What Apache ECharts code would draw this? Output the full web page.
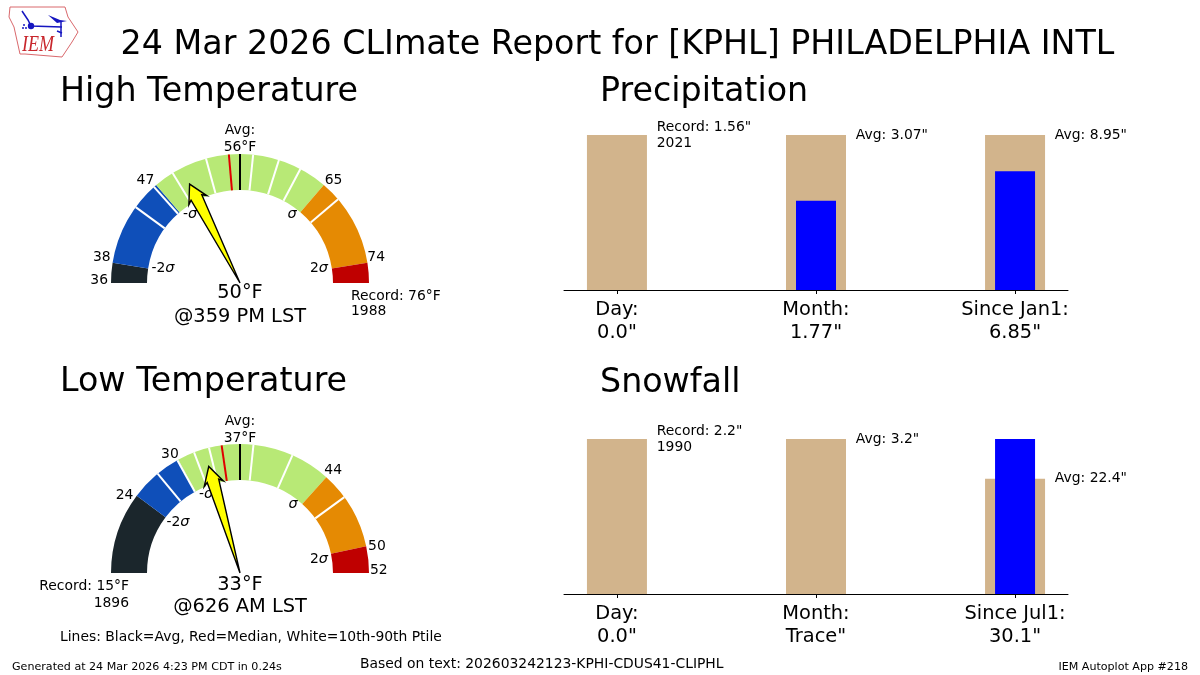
<!DOCTYPE html>
<html lang="en">
<head>
<meta charset="UTF-8">
<title>KPHL CLImate Report</title>
<script src="https://cdn.jsdelivr.net/npm/echarts/dist/echarts.min.js"></script>
<style>
    html, body { margin: 0; padding: 0; background: #fff; }
    #chart { width: 1200px; height: 675px; }
</style>
</head>
<body>
<div id="chart"></div>
<script>
// temperatures, degrees F
var highRecord = 36, highMax = 76, highAvg = 56, highObs = 50;
var highBands = [36, 38, 47, 65, 74, 76];
var highPercentiles = [44, 46.7, 49, 52.6, 57.3, 59.9, 62.2, 67];
var highMedian = 54.9;
var highTickLabels = [36, 38, 47, 65, 74];

var lowRecord = 15, lowMax = 52, lowAvg = 37, lowObs = 33;
var lowBands = [15, 24, 30, 44, 50, 52];
var lowPercentiles = [27.3, 29.9, 31.9, 33.6, 38, 41, 46];
var lowMedian = 35;
var lowTickLabels = [24, 30, 44, 50, 52];

var bandColors = ['#1b262c', '#0f4fb9', '#b8e976', '#e58a03', '#bf0000'];

// bars: the tan bar is the record/average, the blue one is the observed value
var precipCategories = ['Day:', 'Month:', 'Since Jan1:'];
var precipObsLabels = ['0.0"', '1.77"', '6.85"'];
var precipObs = [0, 1.77, 6.85];
var precipRef = [1.56, 3.07, 8.95];
var precipNotes = ['Record: 1.56"\n2021', 'Avg: 3.07"', 'Avg: 8.95"'];

var snowCategories = ['Day:', 'Month:', 'Since Jul1:'];
var snowObsLabels = ['0.0"', 'Trace"', '30.1"'];
var snowObs = [0, 0, 30.1];
var snowRef = [2.2, 3.2, 22.4];
var snowNotes = ['Record: 2.2"\n1990', 'Avg: 3.2"', 'Avg: 22.4"'];

var FONT = '"DejaVu Sans", sans-serif';
var R_IN = 93, R_OUT = 129;

// the gauge has its average straight up, each half has its own scale
function angleScale(min, avg, max) {
    return function (t) {
        if (t <= avg) return (t - min) / (avg - min) * 90;
        return 90 + (t - avg) / (max - avg) * 90;
    };
}
var highAngle = angleScale(highRecord, highAvg, highMax);
var lowAngle = angleScale(lowRecord, lowAvg, lowMax);

function txt(text, x, y, size, align, va, extra) {
    var style = {
        text: text, fill: '#000', font: size + 'px ' + FONT,
        align: align || 'left', verticalAlign: va || 'middle'
    };
    if (extra) for (var k in extra) style[k] = extra[k];
    return { type: 'text', x: x, y: y, silent: true, style: style };
}

function sigma(text, x, y) {
    return txt(text, x, y, 13.9, 'center', 'middle', {
        rich: { i: { fontStyle: 'italic', fontSize: 14.5, fontFamily: 'DejaVu Sans' },
                n: { fontSize: 13.9, fontFamily: 'DejaVu Sans' } }
    });
}

function bandSeries(polarIndex, bands, toAngle) {
    var rows = [];
    for (var i = 0; i < bands.length - 1; i++) rows.push([toAngle(bands[i]), toAngle(bands[i + 1]), i]);
    return {
        type: 'custom', coordinateSystem: 'polar', polarIndex: polarIndex, silent: true, z: 2, data: rows,
        renderItem: function (params, api) {
            var cs = params.coordSys;
            var a = api.coord([R_OUT, api.value(0)]);
            var b = api.coord([R_OUT, api.value(1)]);
            var start = Math.atan2(a[1] - cs.cy, a[0] - cs.cx);
            var end = Math.atan2(b[1] - cs.cy, b[0] - cs.cx);
            if (end < start) end += Math.PI * 2;
            return {
                type: 'sector',
                shape: { cx: cs.cx, cy: cs.cy, r0: R_IN, r: R_OUT, startAngle: start, endAngle: end, clockwise: true },
                style: { fill: bandColors[api.value(2)] }
            };
        }
    };
}

function tickSeries(polarIndex, values, toAngle, color, width, z) {
    return {
        type: 'custom', coordinateSystem: 'polar', polarIndex: polarIndex, silent: true, z: z,
        data: values.map(function (v) { return [toAngle(v), 0]; }),
        renderItem: function (params, api) {
            var p0 = api.coord([R_IN, api.value(0)]);
            var p1 = api.coord([R_OUT, api.value(0)]);
            return {
                type: 'line',
                shape: { x1: p0[0], y1: p0[1], x2: p1[0], y2: p1[1] },
                style: { stroke: color, lineWidth: width }
            };
        }
    };
}

function arrowSeries(polarIndex, obs, toAngle) {
    return {
        type: 'custom', coordinateSystem: 'polar', polarIndex: polarIndex, silent: true, z: 5,
        data: [[toAngle(obs), 0]],
        renderItem: function (params, api) {
            var cs = params.coordSys;
            var tip = api.coord([111, api.value(0)]);
            var dx = (cs.cx - tip[0]) / 111, dy = (cs.cy - tip[1]) / 111;
            function at(along, side) {
                return [tip[0] + dx * along - dy * side, tip[1] + dy * along + dx * side];
            }
            return {
                type: 'polygon',
                shape: { points: [tip, at(18, 10), at(15, 6), [cs.cx, cs.cy], at(15, -6), at(18, -10)] },
                style: { fill: '#ffff00', stroke: '#000', lineWidth: 1.4, lineJoin: 'miter' }
            };
        }
    };
}

// labels sit just outside the arc, left side right aligned and right side left aligned
function gaugeLabels(cx, cy, values, toAngle, nudges) {
    return values.map(function (v, i) {
        var rad = toAngle(v) * Math.PI / 180;
        var x = cx - 132 * Math.cos(rad), y = cy - 132 * Math.sin(rad);
        return txt(String(v), x + nudges[i][0], y + nudges[i][1], 13.9, toAngle(v) < 90 ? 'right' : 'left', 'middle');
    });
}

function noteSeries(gridIndex, ref, obs, notes) {
    return {
        type: 'custom', coordinateSystem: 'cartesian2d', xAxisIndex: gridIndex * 2, yAxisIndex: gridIndex,
        silent: true, z: 4,
        data: ref.map(function (v, i) { return [i + 0.2, v / Math.max(v, obs[i]), i]; }),
        renderItem: function (params, api) {
            var p = api.coord([api.value(0), api.value(1)]);
            return {
                type: 'text', x: p[0], y: p[1],
                style: {
                    text: notes[api.value(2)], fill: '#000', font: '13.9px ' + FONT,
                    align: 'left', verticalAlign: 'middle', lineHeight: 16
                }
            };
        }
    };
}

function barXAxis(gridIndex, categories, obsLabels, visible) {
    var ticks = [0, 1, 2];
    return {
        type: 'value', gridIndex: gridIndex, min: -0.266, max: 2.266, show: visible,
        splitLine: { show: false },
        axisLine: { show: true, onZero: false, lineStyle: { color: '#000', width: 1 } },
        axisTick: { show: true, customValues: ticks, length: 4, lineStyle: { color: '#000' } },
        axisLabel: {
            show: true, customValues: ticks, color: '#000', fontFamily: 'DejaVu Sans', fontSize: 19.4,
            lineHeight: 23, margin: 8, hideOverlap: false,
            formatter: function (v) { return categories[v] + '\n' + obsLabels[v]; }
        }
    };
}

function barYAxis(gridIndex) {
    return { type: 'value', gridIndex: gridIndex, min: 0, max: 1, show: false };
}

function refBars(gridIndex, ref, obs) {
    return {
        type: 'bar', xAxisIndex: gridIndex * 2, yAxisIndex: gridIndex, barWidth: 60, silent: true, z: 2,
        itemStyle: { color: '#d2b48c' },
        data: ref.map(function (v, i) { return [i, v / Math.max(v, obs[i])]; })
    };
}

function obsBars(gridIndex, ref, obs) {
    return {
        type: 'bar', xAxisIndex: gridIndex * 2 + 1, yAxisIndex: gridIndex, barWidth: 40, silent: true, z: 3,
        itemStyle: { color: '#0000ff' },
        data: obs.map(function (v, i) { return [i, v / Math.max(v, ref[i])]; })
    };
}

function polarAngle(i) {
    return { polarIndex: i, type: 'value', min: 0, max: 360, startAngle: 180, clockwise: true, show: false };
}
function polarRadius(i) {
    return { polarIndex: i, type: 'value', min: 0, max: R_OUT, show: false };
}

// the little IEM logo
var LOGO_BLUE = '#1616c0';
var logoText = txt('IEM', 22, 45, 24, 'left', 'middle', { font: 'italic 24px "Liberation Serif", serif', fill: '#c8262c' });
logoText.scaleX = 0.75;
var logo = [
    { type: 'polygon', silent: true,
      shape: { points: [[10, 7], [65, 7], [68, 17], [78, 32], [72, 42], [68, 48], [62, 57], [25, 54], [20, 54], [14, 27], [9, 17]] },
      style: { fill: '#fff', stroke: '#d9686c', lineWidth: 1 } },
    { type: 'polyline', silent: true, shape: { points: [[22, 11], [28, 20], [31, 26], [62, 27]] },
      style: { fill: 'none', stroke: LOGO_BLUE, lineWidth: 1.5 } },
    { type: 'line', silent: true, shape: { x1: 61, y1: 21, x2: 61, y2: 37 }, style: { stroke: LOGO_BLUE, lineWidth: 1.5 } },
    { type: 'line', silent: true, shape: { x1: 57, y1: 31, x2: 62, y2: 33 }, style: { stroke: LOGO_BLUE, lineWidth: 1.5 } },
    { type: 'circle', silent: true, shape: { cx: 31, cy: 26, r: 3.2 }, style: { fill: LOGO_BLUE } },
    { type: 'circle', silent: true, shape: { cx: 24, cy: 25, r: 1 }, style: { fill: LOGO_BLUE } },
    { type: 'circle', silent: true, shape: { cx: 23, cy: 28, r: 1 }, style: { fill: LOGO_BLUE } },
    { type: 'circle', silent: true, shape: { cx: 26, cy: 28, r: 1 }, style: { fill: LOGO_BLUE } },
    { type: 'polygon', silent: true, shape: { points: [[48, 15], [60, 20], [67, 21], [57, 23]] }, style: { fill: LOGO_BLUE } },
    logoText
];

var texts = [
    txt('24 Mar 2026 CLImate Report for [KPHL] PHILADELPHIA INTL', 617.5, 45, 33.3, 'center'),
    txt('High Temperature', 60, 92, 33.3),
    txt('Low Temperature', 60, 382, 33.3),
    txt('Precipitation', 600, 92, 33.3),
    txt('Snowfall', 600, 383, 33.3),

    txt('Avg:\n' + highAvg + '°F', 240, 138.5, 13.9, 'center', 'middle', { lineHeight: 17 }),
    txt(highObs + '°F', 240, 293, 19.4, 'center'),
    txt('@359 PM LST', 240, 317, 19.4, 'center'),
    txt('Record: ' + highMax + '°F\n1988', 351, 304, 13.9, 'left', 'middle', { lineHeight: 15.5 }),
    sigma('{n|-2}{i|σ}', 163, 268), sigma('{n|-}{i|σ}', 190, 214),
    sigma('{i|σ}', 292, 214), sigma('{n|2}{i|σ}', 319, 268),

    txt('Avg:\n' + lowAvg + '°F', 240, 429.5, 13.9, 'center', 'middle', { lineHeight: 17 }),
    txt(lowObs + '°F', 240, 585, 19.4, 'center'),
    txt('@626 AM LST', 240, 607, 19.4, 'center'),
    txt('Record: ' + lowRecord + '°F\n1896', 129, 594.5, 13.9, 'right', 'middle', { lineHeight: 17 }),
    sigma('{n|-2}{i|σ}', 178, 522), sigma('{n|-}{i|σ}', 206, 494),
    sigma('{i|σ}', 293, 504), sigma('{n|2}{i|σ}', 319, 559),

    txt('Lines: Black=Avg, Red=Median, White=10th-90th Ptile', 60, 637, 13.9),
    txt('Generated at 24 Mar 2026 4:23 PM CDT in 0.24s', 12, 667, 11.1),
    txt('Based on text: 202603242123-KPHI-CDUS41-CLIPHL', 360, 664, 13.9),
    txt('IEM Autoplot App #218', 1188, 667, 11.1, 'right')
];

var option = {
    animation: false,
    backgroundColor: '#fff',
    textStyle: { fontFamily: 'DejaVu Sans' },
    polar: [
        { center: [240, 283], radius: [0, R_OUT] },
        { center: [240, 573], radius: [0, R_OUT] }
    ],
    angleAxis: [polarAngle(0), polarAngle(1)],
    radiusAxis: [polarRadius(0), polarRadius(1)],
    grid: [
        { left: 564, top: 135, width: 504, height: 155 },
        { left: 564, top: 439, width: 504, height: 155 }
    ],
    xAxis: [
        barXAxis(0, precipCategories, precipObsLabels, true),
        barXAxis(0, precipCategories, precipObsLabels, false),
        barXAxis(1, snowCategories, snowObsLabels, true),
        barXAxis(1, snowCategories, snowObsLabels, false)
    ],
    yAxis: [barYAxis(0), barYAxis(1)],
    series: [
        bandSeries(0, highBands, highAngle),
        tickSeries(0, highPercentiles, highAngle, '#fff', 2, 3),
        tickSeries(0, [highMedian], highAngle, '#e00000', 2, 3),
        tickSeries(0, [highAvg], highAngle, '#000', 2, 4),
        arrowSeries(0, highObs, highAngle),

        bandSeries(1, lowBands, lowAngle),
        tickSeries(1, lowPercentiles, lowAngle, '#fff', 2, 3),
        tickSeries(1, [lowMedian], lowAngle, '#e00000', 2, 3),
        tickSeries(1, [lowAvg], lowAngle, '#000', 2, 4),
        arrowSeries(1, lowObs, lowAngle),

        refBars(0, precipRef, precipObs),
        obsBars(0, precipRef, precipObs),
        noteSeries(0, precipRef, precipObs, precipNotes),
        refBars(1, snowRef, snowObs),
        obsBars(1, snowRef, snowObs),
        noteSeries(1, snowRef, snowObs, snowNotes)
    ],
    graphic: logo.concat(texts,
        gaugeLabels(240, 283, highTickLabels, highAngle, [[0, -3], [1, -5], [0, -2], [-1, -2], [-3, -5]]),
        gaugeLabels(240, 573, lowTickLabels, lowAngle, [[-1, 1], [2, -3], [-4, -5], [-1, 1], [-2, -3]]))
};

var chart = echarts.init(document.getElementById('chart'));
chart.setOption(option);
</script>
</body>
</html>
